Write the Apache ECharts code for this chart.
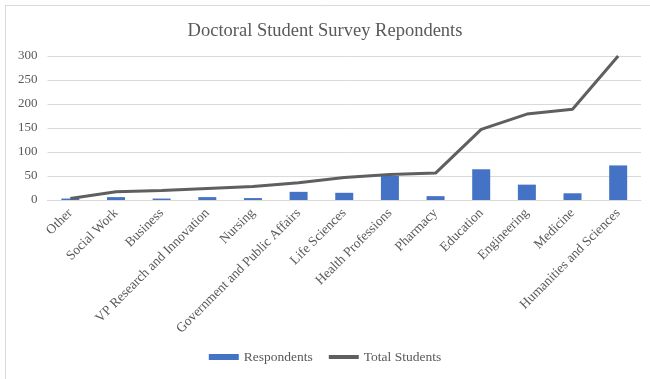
<!DOCTYPE html>
<html>
<head>
<meta charset="utf-8">
<script src="https://cdn.jsdelivr.net/npm/echarts@6/dist/echarts.min.js"></script>
<style>
  html, body { margin: 0; padding: 0; background: #fff; }
  #chart { width: 650px; height: 379px; }
</style>
</head>
<body>
<div id="chart"></div>
<script>
var categories = ['Other', 'Social Work', 'Business', 'VP Research and Innovation', 'Nursing',
    'Government and Public Affairs', 'Life Sciences', 'Health Professions', 'Pharmacy',
    'Education', 'Engineering', 'Medicine', 'Humanities and Sciences'];
var respondents = [3, 6, 3, 6, 4, 17, 15, 50, 8, 64, 32, 14, 72];
var totalStudents = [3, 17, 20, 24, 28, 36, 47, 53, 56, 147, 179, 189, 300];

var serif = '"Liberation Serif", "DejaVu Serif", serif';
var myChart = echarts.init(document.getElementById('chart'));
var option = {
    animation: false,
    title: {
        text: 'Doctoral Student Survey Repondents',
        left: 'center',
        top: 17,
        textStyle: { fontFamily: serif, fontSize: 18.5, fontWeight: 'normal', color: '#595959' }
    },
    legend: {
        bottom: 10,
        left: 'center',
        itemGap: 16,
        itemWidth: 30,
        itemHeight: 6,
        textStyle: { fontFamily: serif, fontSize: 13.5, color: '#595959' },
        data: [
            { name: 'Respondents', icon: 'rect' },
            { name: 'Total Students', icon: 'path://M0,0 L30,0 L30,4 L0,4 Z' }
        ]
    },
    grid: { left: 47.5, right: 9, top: 56, bottom: 179 },
    xAxis: {
        type: 'category',
        data: categories,
        axisTick: { show: false },
        axisLine: { lineStyle: { color: '#d9d9d9' } },
        axisLabel: {
            rotate: 45, interval: 0, margin: 11,
            fontFamily: serif, fontSize: 13.5, color: '#595959'
        }
    },
    yAxis: {
        type: 'value',
        min: 0, max: 300, interval: 50,
        axisLine: { show: false },
        axisTick: { show: false },
        axisLabel: { fontFamily: serif, fontSize: 13, color: '#595959', margin: 10 },
        splitLine: { lineStyle: { color: '#d9d9d9' } }
    },
    series: [
        {
            name: 'Respondents',
            type: 'bar',
            barWidth: 18,
            itemStyle: { color: '#4472C4' },
            data: respondents
        },
        {
            name: 'Total Students',
            type: 'line',
            symbol: 'none',
            lineStyle: { color: '#5f5f5f', width: 3 },
            itemStyle: { color: '#5f5f5f' },
            data: totalStudents
        }
    ],
    graphic: [
        { type: 'line', shape: { x1: 5, y1: 5.5, x2: 650, y2: 5.5 }, style: { stroke: '#d9d9d9', lineWidth: 1 } },
        { type: 'line', shape: { x1: 5.5, y1: 5, x2: 5.5, y2: 379 }, style: { stroke: '#d9d9d9', lineWidth: 1 } }
    ]
};
myChart.setOption(option);
</script>
</body>
</html>
